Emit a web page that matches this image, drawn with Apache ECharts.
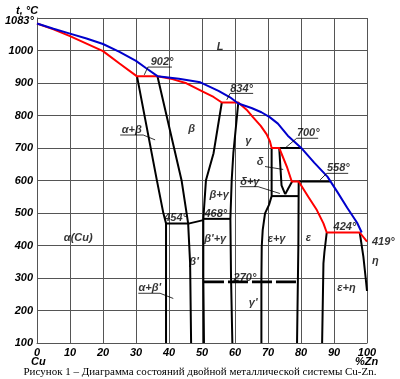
<!DOCTYPE html>
<html><head><meta charset="utf-8">
<script src="https://cdn.jsdelivr.net/npm/echarts@6/dist/echarts.min.js"></script>
<style>html,body{margin:0;padding:0;background:#fff}#c{width:400px;height:379px}</style>
</head><body><div id="c"></div>
<script>
// Liquidus (blue) and solidus (red), composition %Zn vs temperature °C
const liquidus = [[0,1083],[5,1067],[10,1052],[15,1037],[20,1020],[25,996],[30,968],[33,946],[36.5,921],[43,913],[49.5,902],[55,876],[58.5,856],[61,837],[65,823],[68,810],[70.5,795],[73,775],[76,738],[80,701],[84,655],[88,612],[91,565],[94,516],[97,470],[98.4,440]];
const solidus = [[0,1083],[5,1065],[10,1044],[20,998],[25,960],[30.2,921],[36.5,921],[41,912],[45.3,899],[50.4,873],[53.5,857],[56,840],[61,840],[63.5,818],[65.5,794],[67.8,768],[69.6,742],[70.6,720],[71.1,700],[73.4,700],[75.7,643],[77.2,597],[79.3,597],[82.2,550],[84.8,509],[86.8,468],[87.8,440],[97.8,440],[100,412]];
// Phase boundaries (black)
const alphaBoundary = [[30.3,921],[36.3,602],[38.3,499],[39.1,468],[39.1,100]];
const betaLeft = [[36.5,921],[43.8,601],[45.8,468],[46.4,345],[46.7,100]];
const betaRight = [[56,840],[53.5,684],[51.2,601],[50.4,482],[50.4,300],[50.6,100]];
const gammaLeft = [[61,840],[59.5,684],[59,601],[58.6,482],[58.8,300],[59.2,100]];
const gammaRight = [[71.1,700],[71.1,552],[70.3,525],[69.1,499],[68.4,448],[68.1,396],[68,300],[68,100]];
const deltaLeft = [[73.4,700],[74.1,585],[75.2,558]];
const deltaRight = [[77.3,597],[75.2,558]];
const epsLeft = [[79.3,597],[79.2,400],[78.8,100]];
const epsRight = [[87.8,440],[87.1,380],[86.8,345],[86.4,100]];
const etaBoundary = [[97.8,440],[98.9,366],[99.6,300],[100,260]];
const iso700 = [[73.4,700],[80.2,700]];
const iso598 = [[79.3,597],[88.8,597]];
const iso558 = [[71.1,552],[79.3,552]];
const iso454 = [[39.1,468],[46.2,468],[50.4,478]];
const iso468 = [[50.4,482],[58.6,482]];
const iso270 = [[50.6,288],[78.8,288]];
// Labels
const regionLabels = [
  ['L',55.5,1011],['902°',37.9,965],['834°',62,883],['700°',82.2,745],['558°',91.3,639],
  ['424°',93.3,458],['ε+η',93.8,268],['ε',82.2,422],['ε+γ',72.6,419],["β'+γ",54,419],
  ['β+γ',55.2,555],['468°',54.2,497],['454°',42,485],["β'",47.6,349],["α+β'",34.2,269],
  ['270°',63,301],["γ'",65.5,224],['α(Cu)',12.5,422],['α+β',28.7,755],['β',46.9,760],
  ['γ',64,722],['δ',67.6,658],['δ+γ',64.5,596]
];
const sideLabels = [['419°',100,412],['η',100,352]];
const leaderLines = [
  [[33.6,949],[40.9,949]],[[33.6,949],[32.5,925]],
  [[58.5,868],[65.5,868]],[[58.5,868],[57.5,848]],
  [[78.7,730],[85.2,730]],[[78.7,730],[75.2,700]],
  [[87.8,622],[94.3,622]],[[87.8,622],[85.8,602]],
  [[25.2,740],[32.2,740]],[[32.2,740],[35.8,725]],
  [[30.7,253],[37.3,253]],[[37.3,253],[41.3,237]],
  [[61.5,581],[67,581]],[[67,581],[73.6,560]],
  [[69.1,643],[74.6,634]],
  [[100.3,412],[101.4,412]],[[100.3,381],[102,362]]
];

const lf = 'Liberation Sans';
const lblStyle = {color:'#000',fontStyle:'italic',fontWeight:'bold',fontSize:11,fontFamily:lf};
const series = [];
function line(data,color,width,type){
  series.push({type:'line',data:data,symbol:'none',silent:true,clip:false,
    lineStyle:{color:color,width:width,type:type||'solid'},z:3});
}
[alphaBoundary,betaLeft,betaRight,gammaLeft,gammaRight,deltaLeft,deltaRight,epsLeft,epsRight,etaBoundary,iso700,iso598,iso558,iso454,iso468].forEach(d=>line(d,'#000',2));
line(iso270,'#000',2.6,[20,4]);
line(solidus,'#ff0000',2);
line(liquidus,'#0000cc',2);
leaderLines.forEach(d=>line(d,'#000',0.8));
series.push({type:'scatter',symbolSize:0,silent:true,clip:false,z:5,
  data:regionLabels.map(r=>({value:[r[1],r[2]],name:r[0]})),
  label:Object.assign({show:true,position:'inside',formatter:'{b}'},lblStyle)});
series.push({type:'scatter',symbolSize:0,silent:true,clip:false,z:5,
  data:sideLabels.map(r=>({value:[r[1],r[2]],name:r[0]})),
  label:Object.assign({show:true,position:'right',distance:5,formatter:'{b}'},lblStyle)});

const chart = echarts.init(document.getElementById('c'),null,{renderer:'canvas'});
chart.setOption({
  animation:false,
  backgroundColor:'#fff',
  grid:{left:37,right:33,top:18,bottom:36},
  xAxis:{type:'value',min:0,max:100,interval:10,
    axisLine:{lineStyle:{color:'#555',width:1}},axisTick:{show:false},
    splitLine:{show:true,lineStyle:{color:'#555',width:1}},
    axisLabel:Object.assign({margin:4},lblStyle)},
  yAxis:{type:'value',min:100,max:1100,interval:100,
    axisLine:{show:true,lineStyle:{color:'#555',width:1}},axisTick:{show:false},
    splitLine:{show:true,lineStyle:{color:'#555',width:1}},
    axisLabel:Object.assign({margin:4,formatter:v=>v===1100?'':String(v)},lblStyle)},
  graphic:[
    {type:'text',left:16,top:5,style:{text:'t, °C',font:'italic bold 11px Liberation Sans',fill:'#000'}},
    {type:'text',left:5,top:15,style:{text:'1083°',font:'italic bold 11px Liberation Sans',fill:'#000'}},
    {type:'text',left:31,top:356,style:{text:'Cu',font:'italic bold 11px Liberation Sans',fill:'#000'}},
    {type:'text',left:355,top:356,style:{text:'%Zn',font:'italic bold 11px Liberation Sans',fill:'#000'}},
    {type:'text',left:'center',top:367,style:{text:'Рисунок 1 – Диаграмма состояний двойной металлической системы Cu-Zn.',font:'11px Liberation Serif',fill:'#000'}}
  ],
  series:series
});
</script></body></html>
